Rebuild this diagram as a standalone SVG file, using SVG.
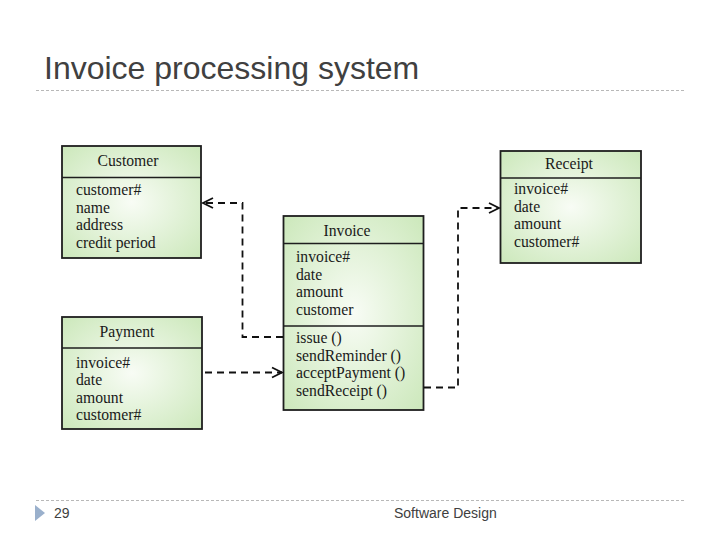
<svg xmlns="http://www.w3.org/2000/svg" width="720" height="540" viewBox="0 0 720 540">
<defs>
<radialGradient id="g" cx="0.5" cy="0.5" r="0.7">
<stop offset="0" stop-color="#f8fcf5"/>
<stop offset="1" stop-color="#cce8bb"/>
</radialGradient>
<marker id="arr" markerUnits="userSpaceOnUse" markerWidth="14" markerHeight="14" refX="11" refY="6" orient="auto" overflow="visible">
<path d="M1,1 L11,6 L1,11" fill="none" stroke="#111" stroke-width="1.8" stroke-dasharray="none"/>
</marker>
</defs>
<style>
.title{font-family:"Liberation Sans",Arial,sans-serif;font-size:32px;fill:#404040}
.foot{font-family:"Liberation Sans",Arial,sans-serif;font-size:14px;fill:#404040}
.rule{stroke:#b8b8b8;stroke-width:1;stroke-dasharray:3,2;fill:none}
.box{fill:url(#g);stroke:#1e1e1e;stroke-width:1.8}
.div{stroke:#1e1e1e;stroke-width:1.6}
.t{font-family:"Liberation Serif","Times New Roman",serif;font-size:15.7px;fill:#1a1a1a}
.h{text-anchor:middle}
.conn{fill:none;stroke:#111;stroke-width:1.8;stroke-dasharray:7,5}
</style>
<rect width="720" height="540" fill="#ffffff"/>
<text class="title" x="44" y="79">Invoice processing system</text>
<line class="rule" x1="36" y1="90.5" x2="686" y2="90.5"/>

<g id="customer">
<rect class="box" x="62" y="146" width="139" height="112"/>
<line class="div" x1="62" y1="177.5" x2="201" y2="177.5"/>
<text class="t h" x="128" y="166">Customer</text>
<text class="t" x="76" y="195">customer#</text>
<text class="t" x="76" y="212.5">name</text>
<text class="t" x="76" y="230">address</text>
<text class="t" x="76" y="247.5">credit period</text>
</g>

<g id="payment">
<rect class="box" x="62" y="317" width="140" height="112"/>
<line class="div" x1="62" y1="348" x2="202" y2="348"/>
<text class="t h" x="127" y="337">Payment</text>
<text class="t" x="76" y="367.5">invoice#</text>
<text class="t" x="76" y="385">date</text>
<text class="t" x="76" y="402.5">amount</text>
<text class="t" x="76" y="420">customer#</text>
</g>

<g id="invoice">
<rect class="box" x="283.5" y="216" width="140" height="194"/>
<line class="div" x1="283.5" y1="243.5" x2="423.5" y2="243.5"/>
<line class="div" x1="283.5" y1="326" x2="423.5" y2="326"/>
<text class="t h" x="347" y="236">Invoice</text>
<text class="t" x="296" y="262">invoice#</text>
<text class="t" x="296" y="279.5">date</text>
<text class="t" x="296" y="297">amount</text>
<text class="t" x="296" y="314.5">customer</text>
<text class="t" x="296" y="343">issue ()</text>
<text class="t" x="296" y="360.5">sendReminder ()</text>
<text class="t" x="296" y="378">acceptPayment ()</text>
<text class="t" x="296" y="395.5">sendReceipt ()</text>
</g>

<g id="receipt">
<rect class="box" x="500.5" y="151" width="140.5" height="112"/>
<line class="div" x1="500.5" y1="178" x2="641" y2="178"/>
<text class="t h" x="569" y="169">Receipt</text>
<text class="t" x="514" y="194">invoice#</text>
<text class="t" x="514" y="211.5">date</text>
<text class="t" x="514" y="229">amount</text>
<text class="t" x="514" y="246.5">customer#</text>
</g>

<g id="connectors">
<path class="conn" d="M283 337 H242.5 V203 H203" marker-end="url(#arr)"/>
<path class="conn" d="M205 372.5 H282" marker-end="url(#arr)"/>
<path class="conn" d="M424 387.5 H458 V208 H499" marker-end="url(#arr)"/>
</g>

<line class="rule" x1="36" y1="500.5" x2="686" y2="500.5"/>
<polygon points="35,505 45,513 35,521" fill="#9ab0cc"/>
<text class="foot" x="54" y="518">29</text>
<text class="foot" x="394" y="518">Software Design</text>
</svg>
